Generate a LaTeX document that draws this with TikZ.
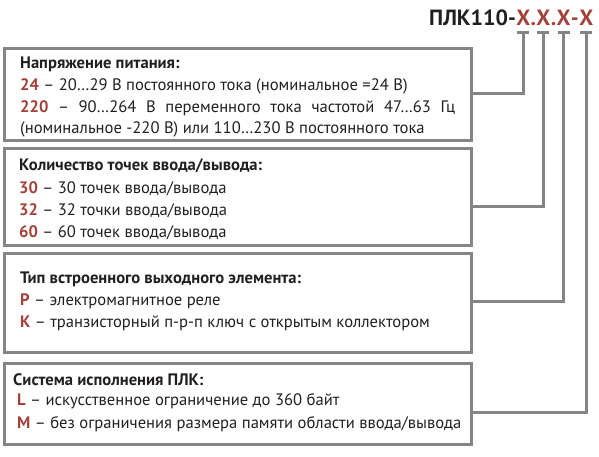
\documentclass[tikz,border=0pt]{standalone}
\usepackage{fontspec}
\setmainfont{PT Sans}
\usetikzlibrary{calc}
\definecolor{boxgray}{HTML}{858585}
\definecolor{codered}{HTML}{A3423A}
\definecolor{ink}{HTML}{231F20}
\newcommand{\cd}[1]{\textbf{\textcolor{codered}{#1}}}
\begin{document}
\begin{tikzpicture}[x=1pt,y=-1pt,
  frame/.style={draw=boxgray,line width=3pt,rectangle,inner sep=0pt},
  conn/.style={draw=boxgray,line width=3pt},
  txt/.style={anchor=base west,inner sep=0pt,font=\fontsize{16.6}{22}\selectfont,text=ink},
  head/.style={txt,font=\fontsize{16.6}{22}\selectfont\bfseries},
  ttl/.style={anchor=base west,inner sep=0pt,font=\fontsize{22}{22}\selectfont\bfseries}
]
\useasboundingbox (0,0) rectangle (599,456);
% boxes
\node[frame,minimum width=466.5pt,minimum height=92pt] (b1) at (237.75,94.5) {};
\node[frame,minimum width=466.5pt,minimum height=97pt] (b2) at (237.75,196.5) {};
\node[frame,minimum width=466.5pt,minimum height=99pt] (b3) at (237.75,302.5) {};
\node[frame,minimum width=466.5pt,minimum height=81pt] (b4) at (237.75,403.5) {};
% title
\node[ttl,text=ink] (t0) at (429,25) {ПЛК110-};
\node[ttl,text=codered] (x1) at (t0.base east) {X};
\node[ttl,text=codered] (d1) at (x1.base east) {.};
\node[ttl,text=codered] (x2) at (d1.base east) {X};
\node[ttl,text=codered] (d2) at (x2.base east) {.};
\node[ttl,text=codered] (x3) at (d2.base east) {X};
\node[ttl,text=codered] (d3) at (x3.base east) {-};
\node[ttl,text=codered] (x4) at (d3.base east) {X};
% connectors
\foreach \n in {x1,x2,x3,x4}{
  \draw[conn] ([xshift=-6pt,yshift=-7pt]\n.south) -- ([xshift=6pt,yshift=-7pt]\n.south);
}
\draw[conn] ([yshift=-7pt]x1.south) |- ([yshift=1.5pt]b1.east);
\draw[conn] ([yshift=-7pt]x2.south) |- ([yshift=-9.5pt]b2.east);
\draw[conn] ([yshift=-7pt]x3.south) |- ([yshift=1.5pt]b3.east);
\draw[conn] ([yshift=-7pt]x4.south) |- ([yshift=-8.5pt]b4.east);
% box 1 text
\node[head] (h1) at (20,68) {Напряжение питания:};
\node[txt] (l11) at (20,90) {\cd{24} – 20…29 В постоянного тока (номинальное =24 В)};
\node[txt] (l12) at (20,112) {\makebox[435pt][s]{\cd{220} – 90…264 В переменного тока частотой 47…63 Гц}};
\node[txt] (l13) at (20,133) {(номинальное -220 В) или 110…230 В постоянного тока};
% box 2 text
\node[head] (h2) at (19,170) {Количество точек ввода/вывода:};
\node[txt] (l21) at (19,193) {\cd{30} – 30 точек ввода/вывода};
\node[txt] (l22) at (19,215) {\cd{32} – 32 точки ввода/вывода};
\node[txt] (l23) at (19,237) {\cd{60} – 60 точек ввода/вывода};
% box 3 text
\node[head] (h3) at (20,283) {Тип встроенного выходного элемента:};
\node[txt] (l31) at (20,305) {\cd{Р} – электромагнитное реле};
\node[txt] (l32) at (20,327) {\cd{К} – транзисторный п-р-п ключ с открытым коллектором};
% box 4 text
\node[head] (h4) at (13,385) {Система исполнения ПЛК:};
\node[txt] (l41) at (17,405) {\cd{L} – искусственное ограничение до 360 байт};
\node[txt] (l42) at (17,428) {\cd{M} – без ограничения размера памяти области ввода/вывода};
\end{tikzpicture}
\end{document}
